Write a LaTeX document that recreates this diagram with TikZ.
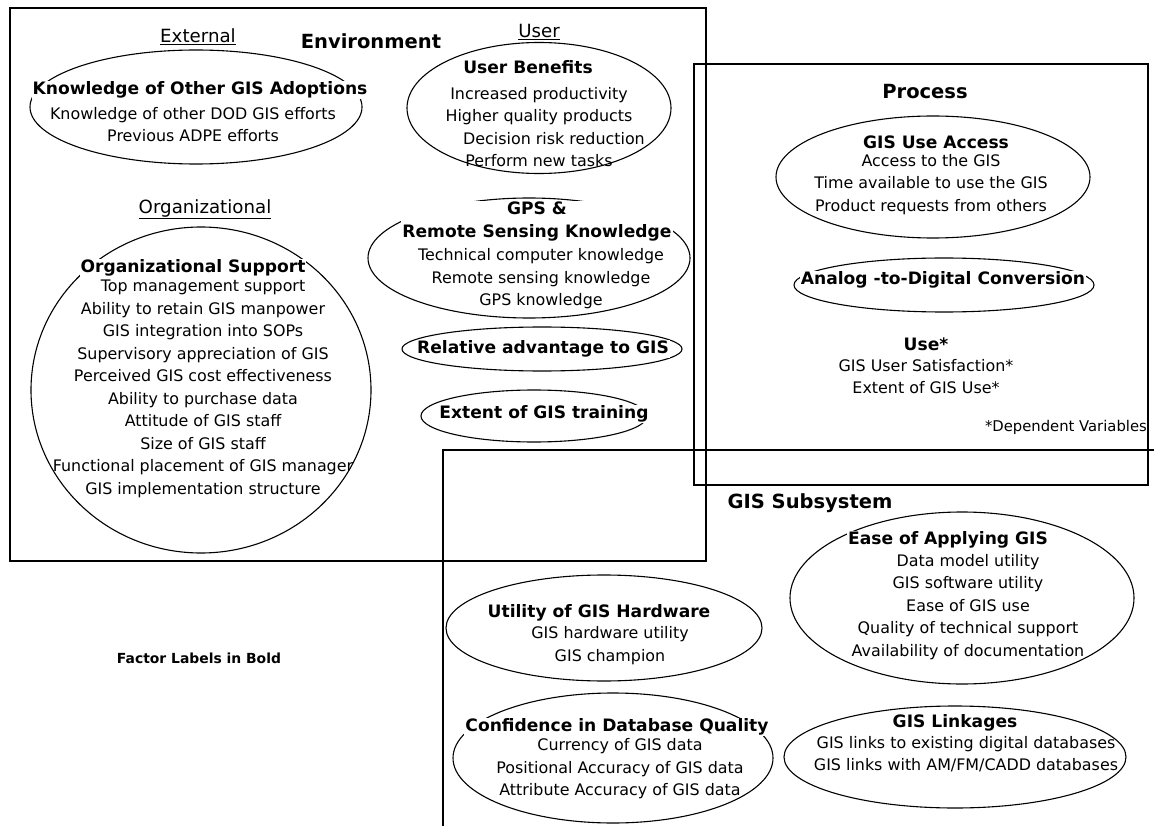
\documentclass[tikz,border=0pt]{standalone}
\usepackage{fontspec}
\setmainfont{DejaVu Sans}
\usepackage{tikz}
\usetikzlibrary{shapes.geometric}

\tikzset{
  factor/.style={ellipse, draw, line width=1.1pt, inner sep=0pt},
  ftitle/.style={fill=white, inner sep=1pt, align=center, font=\fontsize{17.1}{23}\selectfont\bfseries},
  fitems/.style={inner sep=0pt, align=center, font=\fontsize{15.9}{22.5}\selectfont},
  areahead/.style={inner sep=1pt, font=\fontsize{19.5}{23}\selectfont\bfseries},
  sublabel/.style={inner sep=1pt, font=\fontsize{18.2}{21}\selectfont},
  boxline/.style={line width=1.3pt}
}

\begin{document}
\begin{tikzpicture}[x=1pt,y=-1pt]
	\useasboundingbox (0,0) rectangle (1154,826);

	% the three areas
	\draw[boxline] (10,8) rectangle (706,561);
	\draw[boxline] (694,64) rectangle (1148,485);
	\draw[boxline] (1154,450) -- (443,450) -- (443,826);

	\node[areahead] (env) at (371,41) {Environment};
	\node[areahead] (proc) at (925,92) {Process};
	\node[areahead] (sub) at (810,503) {GIS Subsystem};

	\node[sublabel] (ext) at (198,37) {\underline{External}};
	\node[sublabel] (usr) at (539,32) {\underline{User}};
	\node[sublabel] (org) at (205,209) {\underline{Organizational}};

	% environment
	\node[factor, minimum width=332, minimum height=114] (koga) at (196,107) {};
	\node[ftitle] (kogat) at (200,90) {Knowledge of Other GIS Adoptions};
	\node[fitems] (kogai) at (193,124.5) {Knowledge of other DOD GIS efforts\\Previous ADPE efforts};

	\node[factor, minimum width=264, minimum height=131] (ub) at (539,108) {};
	\node[ftitle] (ubt) at (528,67) {User Benefits};
	\node[fitems] (ubi) at (539,127) {Increased productivity\\Higher quality products\\
		\hspace*{30pt}Decision risk reduction\\Perform new tasks};

	\node[factor, minimum width=322, minimum height=120] (gps) at (529,258) {};
	\node[ftitle] (gpst) at (537,221.5) {GPS \&\\Remote Sensing Knowledge};
	\node[fitems] (gpsi) at (541,279) {Technical computer knowledge\\Remote sensing knowledge\\GPS knowledge};

	\node[factor, minimum width=280, minimum height=44] (rel) at (542,349) {};
	\node[ftitle] (relt) at (543,349) {Relative advantage to GIS};

	\node[factor, minimum width=226, minimum height=52] (trn) at (534,416) {};
	\node[ftitle] (trnt) at (544,414) {Extent of GIS training};

	\node[factor, minimum width=340, minimum height=326] (os) at (201,390) {};
	\node[ftitle] (ost) at (193,268) {Organizational Support};
	\node[fitems] (osi) at (203,389) {Top management support\\Ability to retain GIS manpower\\
		GIS integration into SOPs\\Supervisory appreciation of GIS\\Perceived GIS cost effectiveness\\
		Ability to purchase data\\Attitude of GIS staff\\Size of GIS staff\\
		Functional placement of GIS manager\\GIS implementation structure};

	% process
	\node[factor, minimum width=314, minimum height=122] (acc) at (933,177) {};
	\node[ftitle] (acct) at (936,142) {GIS Use Access};
	\node[fitems] (acci) at (931,184.5) {Access to the GIS\\Time available to use the GIS\\Product requests from others};

	\node[factor, minimum width=300, minimum height=54] (adc) at (944,285) {};
	\node[ftitle] (adct) at (943,280) {Analog -to-Digital Conversion};

	\node[ftitle] (uset) at (926,344) {Use*};
	\node[fitems] (usei) at (926,376.5) {GIS User Satisfaction*\\Extent of GIS Use*};
	\node[fitems, anchor=east, font=\fontsize{14.8}{18}\selectfont] (dep) at (1147,427) {*Dependent Variables};

	% gis subsystem
	\node[factor, minimum width=344, minimum height=172] (ease) at (962,598) {};
	\node[ftitle] (easet) at (948,540) {Ease of Applying GIS};
	\node[fitems] (easei) at (968,607) {Data model utility\\GIS software utility\\Ease of GIS use\\
		Quality of technical support\\Availability of documentation};

	\node[factor, minimum width=316, minimum height=106] (hw) at (604,628) {};
	\node[ftitle] (hwt) at (599,613) {Utility of GIS Hardware};
	\node[fitems] (hwi) at (610,645.5) {GIS hardware utility\\GIS champion};

	\node[factor, minimum width=320, minimum height=130] (dbq) at (613,758) {};
	\node[ftitle] (dbqt) at (617,727) {Confidence in Database Quality};
	\node[fitems] (dbqi) at (620,769) {Currency of GIS data\\Positional Accuracy of GIS data\\Attribute Accuracy of GIS data};

	\node[factor, minimum width=342, minimum height=102] (lnk) at (955,757) {};
	\node[ftitle] (lnkt) at (955,723) {GIS Linkages};
	\node[fitems] (lnki) at (966,754) {GIS links to existing digital databases\\GIS links with AM/FM/CADD databases};

	\node[inner sep=1pt, font=\fontsize{13.9}{16}\selectfont\bfseries] (note) at (199,658) {Factor Labels in Bold};
\end{tikzpicture}
\end{document}
